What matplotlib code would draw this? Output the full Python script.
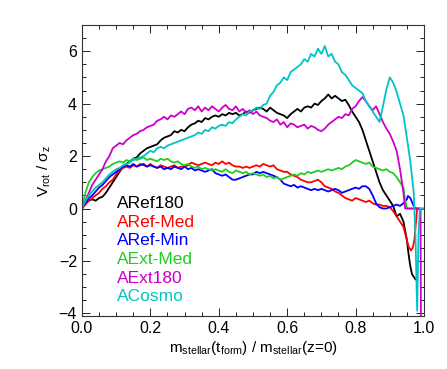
import numpy as np
import matplotlib
matplotlib.use("Agg")
import matplotlib.pyplot as plt
from matplotlib.ticker import MultipleLocator

plt.rcParams['font.family'] = ['Liberation Sans', 'DejaVu Sans']
plt.rcParams['mathtext.fontset'] = 'custom'
plt.rcParams['mathtext.rm'] = 'Liberation Sans'
plt.rcParams['mathtext.it'] = 'Liberation Sans:italic'

# common grid 0.00 .. 0.94, then each run has its own tail
x_main = np.round(np.arange(0, 0.945, 0.01), 2)

aref180 = [0, 0.2, 0.3, 0.35, 0.3, 0.4, 0.45, 0.6, 0.8, 1.0,
           1.2, 1.4, 1.6, 1.7, 1.8, 1.9, 1.95, 2.1, 2.2, 2.3,
           2.35, 2.4, 2.45, 2.6, 2.7, 2.75, 2.8, 2.95, 2.9, 3.0,
           2.95, 3.1, 3.2, 3.25, 3.35, 3.3, 3.45, 3.4, 3.5, 3.55,
           3.5, 3.6, 3.55, 3.65, 3.6, 3.65, 3.55, 3.6, 3.7, 3.65,
           3.75, 3.8, 3.85, 3.8, 3.7, 3.85, 3.75, 3.65, 3.6, 3.55,
           3.45, 3.6, 3.7, 3.8, 3.7, 3.85, 3.9, 3.85, 4.0, 3.95,
           4.1, 4.2, 4.35, 4.2, 4.3, 4.2, 4.1, 4.15, 3.95, 3.7,
           3.5, 3.3, 3.0, 2.6, 2.2, 1.8, 1.4, 1.0, 0.7, 0.5,
           0.3, 0.1, -0.3, -0.2, -0.5]
aref180_tx = [0.95, 0.955, 0.96, 0.965, 0.97, 0.975]
aref180_ty = [-1.2, -1.75, -2.2, -2.5, -2.6, -2.7]

arefmed = [0, 0.15, 0.3, 0.4, 0.5, 0.6, 0.75, 0.85, 1.0, 1.1,
           1.3, 1.45, 1.55, 1.6, 1.55, 1.65, 1.6, 1.7, 1.65, 1.6,
           1.7, 1.6, 1.55, 1.65, 1.6, 1.55, 1.6, 1.65, 1.55, 1.6,
           1.6, 1.65, 1.75, 1.7, 1.65, 1.7, 1.75, 1.7, 1.65, 1.75,
           1.7, 1.8, 1.7, 1.75, 1.65, 1.6, 1.6, 1.55, 1.6, 1.55,
           1.6, 1.65, 1.6, 1.7, 1.65, 1.6, 1.65, 1.5, 1.45, 1.4,
           1.4, 1.3, 1.25, 1.2, 1.1, 1.05, 1.0, 1.0, 1.05, 1.1,
           1.0, 0.85, 0.8, 0.75, 0.65, 0.6, 0.5, 0.4, 0.35, 0.3,
           0.4, 0.35, 0.3, 0.25, 0.3, 0.2, 0.15, 0.15, 0.1, 0.1,
           0.05, -0.1, -0.3, -0.5, -0.7]
arefmed_tx = [0.95, 0.955, 0.962, 0.967, 0.972, 0.976, 0.98]
arefmed_ty = [-1.2, -1.45, -1.6, -1.5, -1.2, -0.6, 0.0]

arefmin = [0, 0.2, 0.4, 0.5, 0.65, 0.8, 0.9, 1.05, 1.2, 1.3,
           1.4, 1.5, 1.6, 1.65, 1.6, 1.7, 1.6, 1.65, 1.7, 1.6,
           1.65, 1.6, 1.55, 1.6, 1.5, 1.55, 1.5, 1.6, 1.55, 1.5,
           1.6, 1.5, 1.55, 1.45, 1.5, 1.45, 1.4, 1.45, 1.5, 1.35,
           1.3, 1.25, 1.3, 1.2, 1.1, 1.1, 1.15, 1.2, 1.25, 1.3,
           1.3, 1.4, 1.35, 1.4, 1.35, 1.3, 1.25, 1.2, 1.1, 0.95,
           0.9, 0.85, 0.9, 0.8, 0.85, 0.8, 0.75, 0.7, 0.75, 0.7,
           0.75, 0.7, 0.65, 0.7, 0.75, 0.7, 0.6, 0.65, 0.7, 0.75,
           0.8, 0.75, 0.85, 0.85, 0.75, 0.5, 0.2, 0.05, 0.0, 0.0,
           0.05, 0.1, 0.15, 0.1, 0.2]
arefmin_tx = [0.95, 0.953, 0.96, 0.965, 0.97, 0.975, 0.98]
arefmin_ty = [0.35, 0.48, 0.4, 0.25, 0.1, 0.0, 0.0]

aextmed = [0, 0.6, 1.0, 1.2, 1.35, 1.45, 1.5, 1.55, 1.6, 1.7,
           1.75, 1.8, 1.75, 1.85, 1.8, 1.9, 1.85, 1.9, 1.95, 1.85,
           1.9, 1.85, 1.8, 1.9, 1.85, 1.9, 1.8, 1.75, 1.8, 1.7,
           1.65, 1.7, 1.6, 1.55, 1.6, 1.5, 1.55, 1.5, 1.45, 1.5,
           1.45, 1.4, 1.5, 1.4, 1.35, 1.45, 1.4, 1.35, 1.4, 1.3,
           1.35, 1.3, 1.25, 1.3, 1.2, 1.25, 1.15, 1.2, 1.1, 1.15,
           1.2, 1.25, 1.3, 1.25, 1.35, 1.3, 1.4, 1.35, 1.4, 1.45,
           1.4, 1.45, 1.5, 1.45, 1.5, 1.55, 1.5, 1.6, 1.65, 1.75,
           1.85, 1.8, 1.75, 1.7, 1.75, 1.6, 1.55, 1.5, 1.45, 1.5,
           1.4, 1.35, 1.2, 1.0, 0.8]
aextmed_tx = [0.944, 0.95, 0.99, 1.0]
aextmed_ty = [0.4, 0.0, 0.0, 0.0]

aext180 = [0, 0.3, 0.6, 0.9, 1.1, 1.3, 1.5, 1.8, 2.0, 2.3,
           2.4, 2.5, 2.45, 2.6, 2.7, 2.8, 2.85, 2.95, 3.0, 3.1,
           3.15, 3.2, 3.35, 3.4, 3.5, 3.4, 3.55, 3.5, 3.6, 3.7,
           3.6, 3.8, 3.85, 3.75, 3.9, 3.7, 3.85, 3.75, 3.9, 3.8,
           3.7, 3.85, 3.95, 3.8, 3.75, 3.9, 3.7, 3.8, 3.65, 3.75,
           3.6, 3.7, 3.55, 3.5, 3.45, 3.35, 3.3, 3.4, 3.2, 3.3,
           3.1, 3.25, 3.2, 3.1, 3.15, 3.2, 3.05, 3.15, 3.1, 3.0,
           2.95, 3.05, 3.2, 3.3, 3.4, 3.5, 3.45, 3.6, 3.55, 3.8,
           3.9, 4.1, 4.25, 4.1, 3.9, 3.75, 3.9, 3.6, 3.3, 3.05,
           2.85, 2.55, 2.2, 1.5, 0.6]
aext180_tx = [0.945, 0.96, 0.98, 0.99, 0.991]
aext180_ty = [0.0, 0.0, 0.0, 0.0, -4.4]

acosmo = [0, 0.3, 0.5, 0.65, 0.8, 0.9, 1.0, 1.15, 1.3, 1.4,
          1.5, 1.55, 1.65, 1.7, 1.75, 1.85, 1.9, 1.95, 2.0, 2.1,
          2.2, 2.15, 2.3, 2.35, 2.3, 2.4, 2.45, 2.5, 2.55, 2.6,
          2.65, 2.7, 2.75, 2.8, 2.9, 2.85, 3.0, 2.95, 3.1, 3.05,
          3.15, 3.2, 3.15, 3.3, 3.25, 3.4, 3.5, 3.6, 3.55, 3.7,
          3.75, 3.85, 3.8, 3.95, 4.0, 4.3, 4.45, 4.7, 4.8, 5.0,
          4.9, 5.2, 5.3, 5.4, 5.5, 5.7, 5.6, 5.9, 5.8, 6.1,
          5.9, 6.2, 5.8, 5.9, 5.6, 5.5, 5.2, 5.1, 4.9, 4.7,
          4.6, 4.5, 4.4, 4.1, 3.9, 3.7, 3.5, 3.3, 3.9, 4.55,
          5.0, 4.8, 4.45, 4.0, 3.55]
acosmo_tx = [0.95, 0.96, 0.97, 0.975, 0.98, 0.984, 0.988, 1.0]
acosmo_ty = [2.7, 1.8, 0.6, -1.0, -3.9, -1.0, 0.0, 0.0]

names = ['ARef180', 'ARef-Med', 'ARef-Min', 'AExt-Med', 'AExt180', 'ACosmo']
colors = ['black', '#ff0000', '#0000ff', '#22cc22', '#cc00cc', '#00c4c4']
series = [(aref180, aref180_tx, aref180_ty),
          (arefmed, arefmed_tx, arefmed_ty),
          (arefmin, arefmin_tx, arefmin_ty),
          (aextmed, aextmed_tx, aextmed_ty),
          (aext180, aext180_tx, aext180_ty),
          (acosmo, acosmo_tx, acosmo_ty)]

fig = plt.figure(figsize=(4.47, 3.69), dpi=100)
ax = fig.add_axes([0.1834, 0.1436, 0.7651, 0.7886])

for (ym, tx, ty), c in zip(series, colors):
    xx = np.concatenate([x_main, tx])
    yy = np.concatenate([ym, ty])
    ax.plot(xx, yy, color=c, lw=1.3)

ax.set_xlim(0, 1)
ax.set_ylim(-4.1, 7)
ax.xaxis.set_major_locator(MultipleLocator(0.2))
ax.xaxis.set_minor_locator(MultipleLocator(0.05))
ax.yaxis.set_major_locator(MultipleLocator(2))
ax.yaxis.set_minor_locator(MultipleLocator(0.5))
ax.xaxis.set_major_formatter(plt.FormatStrFormatter('%.1f'))
ax.tick_params(which='both', direction='in', top=True, right=True, labelsize=11.5)
ax.tick_params(which='major', length=6, width=0.6)
ax.tick_params(which='minor', length=3, width=0.6)
for s in ax.spines.values():
    s.set_linewidth(0.8)
    s.set_color('#333333')

ax.set_xlabel(r'$\mathregular{m_{stellar}(t_{form})\ /\ m_{stellar}}$(z=0)', fontsize=11, labelpad=2)
ax.set_ylabel(r'$\mathregular{V_{rot}\ /\ \sigma_z}$', fontsize=11, labelpad=4)

for i, (n, c) in enumerate(zip(names, colors)):
    ax.text(0.101, 0.385 - i * 0.0636, n, color=c, fontsize=12.5,
            transform=ax.transAxes, va='center', ha='left')

fig.savefig('out.png', dpi=100)
